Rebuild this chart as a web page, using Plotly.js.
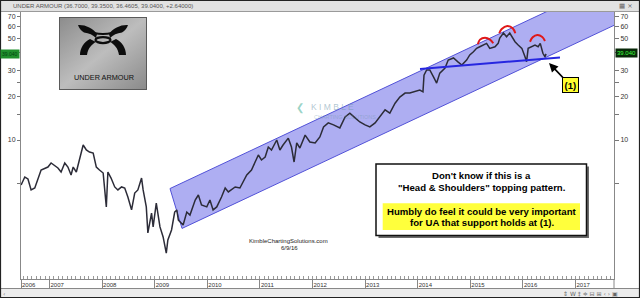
<!DOCTYPE html>
<html><head><meta charset="utf-8">
<script src="https://cdn.plot.ly/plotly-3.0.1.min.js"></script>
<style>html,body{margin:0;padding:0;background:#fff;overflow:hidden}#chart{width:640px;height:298px}</style>
</head><body><div id="chart"></div>
<script>
// ---- price data (decimal year, split-adjusted close) ----
const years = [2006.46,2006.53,2006.59,2006.65,2006.72,2006.78,2006.84,2006.97,2007.03,2007.16,2007.22,2007.29,2007.35,2007.41,2007.45,2007.51,2007.57,2007.64,2007.70,2007.76,2007.83,2007.89,2007.95,2008.02,2008.08,2008.11,2008.17,2008.24,2008.30,2008.37,2008.43,2008.49,2008.56,2008.62,2008.68,2008.75,2008.78,2008.84,2008.87,2008.94,2008.97,2009.03,2009.10,2009.16,2009.22,2009.25,2009.32,2009.38,2009.42,2009.45,2009.54,2009.61,2009.67,2009.77,2009.83,2009.89,2009.99,2010.05,2010.11,2010.18,2010.27,2010.34,2010.40,2010.46,2010.53,2010.62,2010.68,2010.75,2010.84,2010.91,2010.97,2011.03,2011.10,2011.16,2011.22,2011.32,2011.38,2011.44,2011.54,2011.60,2011.65,2011.70,2011.76,2011.86,2011.95,2012.05,2012.14,2012.21,2012.30,2012.40,2012.52,2012.62,2012.71,2012.81,2012.90,2013.00,2013.09,2013.19,2013.28,2013.38,2013.47,2013.57,2013.66,2013.76,2013.85,2013.95,2014.04,2014.10,2014.12,2014.17,2014.23,2014.30,2014.36,2014.42,2014.52,2014.58,2014.68,2014.77,2014.84,2014.93,2014.99,2015.06,2015.12,2015.18,2015.25,2015.31,2015.37,2015.47,2015.53,2015.56,2015.63,2015.69,2015.75,2015.81,2015.85,2015.91,2015.98,2016.04,2016.07,2016.10,2016.17,2016.23,2016.29,2016.33,2016.38,2016.42,2016.44];
const prices = [4.91,5.57,5.40,4.54,4.68,5.48,6.22,6.52,6.95,6.42,6.03,6.95,6.52,5.75,6.52,6.03,7.29,9.24,8.54,8.27,8.14,6.52,6.22,5.93,3.47,6.03,5.48,4.76,4.54,4.76,4.68,4.06,3.31,4.32,4.54,5.48,4.54,3.47,2.30,3.15,2.53,3.69,2.53,2.16,1.67,2.06,2.41,3.20,3.31,2.82,2.61,3.20,3.05,3.87,4.19,3.58,3.47,3.87,3.31,3.47,4.06,4.68,4.40,4.54,4.76,4.68,5.15,5.75,6.22,7.06,7.89,7.29,7.64,8.95,8.54,10.0,8.54,9.24,10.3,8.95,7.06,9.54,8.81,10.8,9.69,9.54,10.5,12.3,13.1,12.7,12.1,14.4,15.3,14.2,13.3,12.7,12.3,13.1,14.4,16.1,15.3,17.9,19.7,21.0,21.0,21.4,22.0,21.4,27.9,30.3,30.3,27.1,24.6,28.8,31.2,35.4,36.6,34.3,32.7,35.4,38.4,40.4,42.6,43.7,44.9,46.1,42.6,43.7,46.1,50.2,54.3,51.2,54.3,50.2,47.3,44.9,42.6,37.3,34.5,42.6,43.7,44.9,43.7,46.1,39.4,37.3,39.04];
const lastPrice = 39.04;
const lastLabel = '39.040';

// ---- drawn channel, neckline and head & shoulders arcs ----
const channelX = [2009.291, 2018.227, 2018.227, 2009.519, 2009.291];
const channelY = [4.64, 152.5, 74.4, 2.47, 4.64];
const neckX = [2014.044, 2016.705];
const neckY = [30.73, 36.87];
const leftShoulderX = [2015.143, 2015.184, 2015.280, 2015.375, 2015.437];
const leftShoulderY = [45.4, 48.9, 50.4, 48.9, 46.2];
const headX = [2015.551, 2015.597, 2015.703, 2015.806, 2015.856];
const headY = [54.1, 57.9, 60.7, 58.5, 54.1];
const rightShoulderX = [2016.135, 2016.186, 2016.274, 2016.369, 2016.420];
const rightShoulderY = [47.3, 50.75, 52.6, 51.0, 47.9];

// ---- axes ----
const xRange = [2006.458, 2017.732];
const yRangeLog = [0.0453, 1.8791];
const xTickVals = [2006.458, 2007, 2008, 2009, 2010, 2011, 2012, 2013, 2014, 2015, 2016, 2017];
const xTickText = ['2006','2007','2008','2009','2010','2011','2012','2013','2014','2015','2016','2017'];
const yTickVals = [5, 10, 15, 20, 25, 30, 40, 50, 60, 70];
const yTickText = ['', '10', '', '20', '', '30', '', '50', '60', '70'];

// pixel -> paper helpers (plot area: x 21..614, y 12..279)
const L = 21, T = 12, W = 593, H = 267;
const px = x => (x - L) / W;
const py = y => 1 - (y - T) / H;

const FONT = 'Liberation Sans, Arial, sans-serif';

const logoSvg = '<svg xmlns="http://www.w3.org/2000/svg" width="88" height="73" viewBox="0 0 88 73">' +
 '<defs><linearGradient id="g" x1="0" y1="0" x2="1" y2="1">' +
 '<stop offset="0" stop-color="#8c8c8c"/><stop offset="0.5" stop-color="#bdbdbd"/><stop offset="1" stop-color="#8a8a8a"/></linearGradient></defs>' +
 '<rect x="0.5" y="0.5" width="87" height="72" fill="url(#g)" stroke="#5a5a5a"/>' +
 '<g transform="translate(19,8) scale(0.5)" fill="#0d0d0d" stroke="none">' +
 // top-left horn
 '<path d="M0,0 C14,-1 30,6 38,18 L36,26 C30,20 22,16 12,15 C6,12 2,6 0,0 Z"/>' +
 // top-right horn
 '<path d="M100,0 C86,-1 70,6 62,18 L64,26 C70,20 78,16 88,15 C94,12 98,6 100,0 Z"/>' +
 // bottom-left leg
 '<path d="M36,34 C28,38 20,46 18,60 L4,60 C4,46 12,34 24,28 Z"/>' +
 // bottom-right leg
 '<path d="M64,34 C72,38 80,46 82,60 L96,60 C96,46 88,34 76,28 Z"/>' +
 // top band
 '<path d="M14,10 Q50,26 86,10" fill="none" stroke="#0d0d0d" stroke-width="4"/>' +
 // centre ring
 '<ellipse cx="50" cy="30" rx="15" ry="6" fill="none" stroke="#0d0d0d" stroke-width="4.5"/>' +
 '</g></svg>';
const logoUri = 'data:image/svg+xml;charset=utf-8,' + encodeURIComponent(logoSvg);

const traces = [
  {x: channelX, y: channelY, type: 'scatter', mode: 'lines', fill: 'toself',
   fillcolor: '#aeaef2', line: {color: '#5252d8', width: 1}, hoverinfo: 'skip'},
  {x: years, y: prices, type: 'scatter', mode: 'lines',
   line: {color: '#2c2c38', width: 1.5}, hoverinfo: 'skip'},
  {x: neckX, y: neckY, type: 'scatter', mode: 'lines',
   line: {color: '#2626e0', width: 2}, hoverinfo: 'skip'},
  {x: leftShoulderX, y: leftShoulderY, type: 'scatter', mode: 'lines',
   line: {color: '#e01818', width: 2, shape: 'spline'}, hoverinfo: 'skip'},
  {x: headX, y: headY, type: 'scatter', mode: 'lines',
   line: {color: '#e01818', width: 2, shape: 'spline'}, hoverinfo: 'skip'},
  {x: rightShoulderX, y: rightShoulderY, type: 'scatter', mode: 'lines',
   line: {color: '#e01818', width: 2, shape: 'spline'}, hoverinfo: 'skip'},
  {x: [years[years.length - 1]], y: [lastPrice], yaxis: 'y2', type: 'scatter', mode: 'markers',
   marker: {opacity: 0}, hoverinfo: 'skip'}
];

const axisCommon = {
  type: 'log', range: yRangeLog, autorange: false,
  tickmode: 'array', tickvals: yTickVals, ticktext: yTickText,
  ticks: 'outside', ticklen: 3, tickcolor: '#777', tickwidth: 1,
  showline: true, linecolor: '#888', linewidth: 1,
  showgrid: false, zeroline: false, fixedrange: true,
  tickfont: {family: FONT, size: 7, color: '#333'}
};

const shapes = [
  // title bar
  {type: 'rect', xref: 'paper', yref: 'paper', x0: px(1), x1: px(639), y0: py(1), y1: py(11.5),
   fillcolor: '#e2e2e2', line: {width: 0}, layer: 'above'},
  {type: 'line', xref: 'paper', yref: 'paper', x0: px(1), x1: px(639), y0: py(11.5), y1: py(11.5),
   line: {color: '#9a9a9a', width: 1}},
  // status bar
  {type: 'rect', xref: 'paper', yref: 'paper', x0: px(1), x1: px(639), y0: py(288.5), y1: py(297),
   fillcolor: '#ececec', line: {width: 0}},
  {type: 'line', xref: 'paper', yref: 'paper', x0: px(1), x1: px(639), y0: py(288.5), y1: py(288.5),
   line: {color: '#888', width: 1}},
  {type: 'line', xref: 'paper', yref: 'paper', x0: 1, x1: 1, y0: py(279), y1: py(288.5),
   line: {color: '#888', width: 1}},
  // outer frame
  {type: 'rect', xref: 'paper', yref: 'paper', x0: px(0.5), x1: px(639.5), y0: py(0.5), y1: py(297.5),
   line: {color: '#222', width: 1.2}},
  // text box shadow + box
  {type: 'rect', xref: 'paper', yref: 'paper', x0: px(378.5), x1: px(589), y0: py(166.5), y1: py(238),
   fillcolor: '#6a6a6a', line: {width: 0}},
  {type: 'rect', xref: 'paper', yref: 'paper', x0: px(376), x1: px(586.5), y0: py(164), y1: py(235.5),
   fillcolor: '#ffffff', line: {color: '#111', width: 1.5}},
  {type: 'rect', xref: 'paper', yref: 'paper', x0: px(382.7), x1: px(580), y0: py(203.3), y1: py(230),
   fillcolor: '#ffff3c', line: {width: 0}}
];

const ann = (x, y, text, opts) => Object.assign({
  xref: 'paper', yref: 'paper', x: px(x), y: py(y), text: text, showarrow: false,
  xanchor: 'center', yanchor: 'middle', font: {family: FONT, size: 10, color: '#000'}
}, opts || {});

const annotations = [
  ann(11, 6, 'UNDER ARMOUR (36.7000, 39.3500, 36.4605, 39.0400, +2.64000)',
      {xanchor: 'left', font: {family: FONT, size: 6, color: '#555'}}),
  ann(626, 6, '▦ ×', {font: {family: 'DejaVu Sans', size: 6.5, color: '#666'}}),
  ann(590, 293.5, '⇕ W ‡ ≑ ⊟ ⊞ ‹ › ▣', {font: {family: 'DejaVu Sans', size: 6, color: '#666'}}),
  ann(4, 293.5, '‹', {font: {family: 'DejaVu Sans', size: 6, color: '#666'}}),
  // current price boxes
  ann(10, 53.5, lastLabel, {bgcolor: '#1f8f2c', borderpad: 1, font: {family: FONT, size: 5, color: '#041'}}),
  ann(626.5, 53.3, lastLabel, {bgcolor: '#082808', borderpad: 1, font: {family: FONT, size: 6, color: '#3cff3c'}}),
  // logo text
  ann(103.5, 78, 'UNDER ARMOUR', {font: {family: FONT, size: 7.3, color: '#111'}}),
  // watermark
  ann(300, 107.5, '❮', {font: {family: 'DejaVu Sans', size: 10, color: 'rgba(70,175,150,0.55)'}}),
  ann(309, 107, 'K I M B L E', {xanchor: 'left', font: {family: FONT, size: 8.5, color: 'rgba(110,150,170,0.55)'}}),
  ann(312, 117.5, 'CHARTING SOLUTIONS', {xanchor: 'left', font: {family: FONT, size: 5.5, color: 'rgba(110,150,170,0.45)'}}),
  // signature
  ann(288, 241, 'KimbleChartingSolutions.com', {font: {family: FONT, size: 6, color: '#222'}}),
  ann(289, 248, '6/9/16', {font: {family: FONT, size: 6, color: '#222'}}),
  // text box
  ann(481.5, 175.5, "<b>Don't know if this is a</b>", {font: {family: FONT, size: 9.6, color: '#000'}}),
  ann(481.5, 187.5, '<b>"Head &amp; Shoulders" topping pattern.</b>', {font: {family: FONT, size: 9.6, color: '#000'}}),
  ann(481.5, 211, '<b>Humbly do feel it could be very important</b>', {font: {family: FONT, size: 9.6, color: '#000'}}),
  ann(481.5, 222, '<b>for UA that support holds at (1).</b>', {font: {family: FONT, size: 9.6, color: '#000'}}),
  // (1) callout
  {xref: 'paper', yref: 'paper', x: px(549), y: py(63), text: '<b>(1)</b>', showarrow: true,
   ax: 21, ay: 22, arrowhead: 2, arrowsize: 1, arrowwidth: 1.8, arrowcolor: '#000',
   bgcolor: '#ffff30', bordercolor: '#000', borderwidth: 1, borderpad: 1.5,
   font: {family: FONT, size: 9.5, color: '#000'}}
];

const layout = {
  width: 640, height: 298,
  margin: {l: L, r: 640 - L - W, t: T, b: 298 - T - H, pad: 0},
  paper_bgcolor: '#ffffff', plot_bgcolor: '#ffffff',
  showlegend: false,
  font: {family: FONT, color: '#333'},
  xaxis: {
    type: 'linear', range: xRange, autorange: false,
    tickmode: 'array', tickvals: xTickVals, ticktext: xTickText,
    ticks: 'outside', ticklen: 9, tickcolor: '#888', tickwidth: 1,
    ticklabelposition: 'outside right', ticklabelstandoff: 0,
    tickfont: {family: FONT, size: 6, color: '#333'},
    minor: {ticks: 'inside', ticklen: 3, tickcolor: '#999', tickmode: 'linear', tick0: 2007, dtick: 1 / 12, showgrid: false},
    showline: true, linecolor: '#888', linewidth: 1,
    showgrid: false, zeroline: false, fixedrange: true
  },
  yaxis: Object.assign({}, axisCommon, {side: 'left'}),
  yaxis2: Object.assign({}, axisCommon, {side: 'right', overlaying: 'y', ticklen: 4}),
  shapes: shapes,
  annotations: annotations,
  images: [{source: logoUri, xref: 'paper', yref: 'paper', x: px(59), y: py(17),
            sizex: 88 / W, sizey: 73 / H, xanchor: 'left', yanchor: 'top', sizing: 'stretch', layer: 'above'}]
};

Plotly.newPlot('chart', traces, layout, {staticPlot: true, displayModeBar: false});
</script>
</body></html>
